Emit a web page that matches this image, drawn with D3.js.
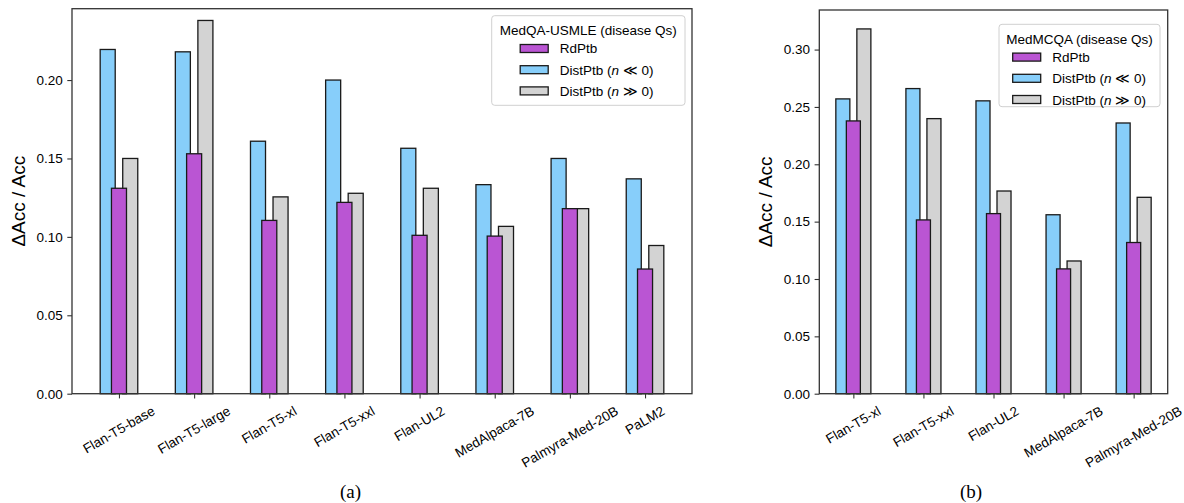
<!DOCTYPE html>
<html>
<head>
<meta charset="utf-8">
<script src="https://cdn.jsdelivr.net/npm/d3@7"></script>
<style>
  body { margin: 0; background: #fff; }
  svg { display: block; font-family: "Liberation Sans", Arial, sans-serif; }
  .tick text { font-size: 13.5px; fill: #000; }
</style>
</head>
<body>
<svg id="chart" width="1184" height="503"></svg>
<script>
// ---- data ----
const seriesNames = ["RdPtb", "DistPtb (n \u226a 0)", "DistPtb (n \u226b 0)"];
const seriesColors = ["#BA55D3", "#87CEFA", "#D3D3D3"];

const modelsA = ["Flan-T5-base", "Flan-T5-large", "Flan-T5-xl", "Flan-T5-xxl",
                 "Flan-UL2", "MedAlpaca-7B", "Palmyra-Med-20B", "PaLM2"];
const rdPtbA   = [0.131, 0.153, 0.1105, 0.122, 0.101, 0.1005, 0.118, 0.0795];
const distNegA = [0.2195, 0.218, 0.161, 0.200, 0.1565, 0.1333, 0.150, 0.137];
const distPosA = [0.150, 0.238, 0.1255, 0.1278, 0.131, 0.1067, 0.118, 0.0945];
const ticksA   = [0.00, 0.05, 0.10, 0.15, 0.20];

const modelsB = ["Flan-T5-xl", "Flan-T5-xxl", "Flan-UL2", "MedAlpaca-7B", "Palmyra-Med-20B"];
const rdPtbB   = [0.2378, 0.1515, 0.157, 0.1088, 0.1318];
const distNegB = [0.257, 0.266, 0.2553, 0.156, 0.236];
const distPosB = [0.318, 0.2398, 0.1767, 0.1157, 0.1712];
const ticksB   = [0.00, 0.05, 0.10, 0.15, 0.20, 0.25, 0.30];

const svg = d3.select("#chart");

function drawPanel(cfg) {
  const g = svg.append("g");
  const n = cfg.models.length;
  const pad = cfg.xpad;
  const x = d3.scaleLinear().domain([-pad, n - 1 + pad]).range([cfg.left, cfg.right]);
  const y = d3.scaleLinear().domain([0, cfg.ymax]).range([cfg.bottom, cfg.top]);
  const unit = x(1) - x(0);
  const bw = 0.2 * unit;

  // bars: blue, gray, then purple on top
  const layers = [
    { vals: cfg.distNeg, color: seriesColors[1], off: -0.15 },
    { vals: cfg.distPos, color: seriesColors[2], off: 0.15 },
    { vals: cfg.rd, color: seriesColors[0], off: 0 }
  ];
  layers.forEach(L => {
    g.selectAll(null).data(L.vals).enter().append("rect")
      .attr("x", (d, i) => x(i + L.off) - bw / 2)
      .attr("y", d => y(d))
      .attr("width", bw)
      .attr("height", d => y(0) - y(d))
      .attr("fill", L.color)
      .attr("stroke", "#1a1a1a")
      .attr("stroke-width", 1.3);
  });

  // frame
  g.append("rect")
    .attr("x", cfg.left).attr("y", cfg.top)
    .attr("width", cfg.right - cfg.left).attr("height", cfg.bottom - cfg.top)
    .attr("fill", "none").attr("stroke", "#333").attr("stroke-width", 1.3);

  // y axis
  const yAxis = g.append("g").attr("transform", `translate(${cfg.left},0)`)
    .call(d3.axisLeft(y).tickValues(cfg.ticks).tickFormat(d3.format(".2f"))
      .tickSize(4.7).tickPadding(4.5));
  yAxis.select(".domain").remove();
  yAxis.selectAll(".tick line").attr("stroke", "#333").attr("stroke-width", 1.1);

  // x axis
  const xAxis = g.append("g").attr("transform", `translate(0,${cfg.bottom})`)
    .call(d3.axisBottom(x).tickValues(d3.range(n)).tickFormat("").tickSize(4.7));
  xAxis.select(".domain").remove();
  xAxis.selectAll(".tick line").attr("stroke", "#333").attr("stroke-width", 1.1);

  // rotated tick labels (centered bbox, like matplotlib rotation=30)
  const th = 30 * Math.PI / 180;
  const fs = 13.5;
  cfg.models.forEach((m, i) => {
    const t = g.append("text")
      .attr("font-size", fs)
      .attr("text-anchor", "middle")
      .attr("dominant-baseline", "central")
      .text(m);
    const w = t.node().getComputedTextLength();
    const h = fs * 1.15;
    const H = w * Math.sin(th) + h * Math.cos(th);
    const cx = x(i), cy = cfg.bottom + 4.7 + 4.7 + H / 2;
    t.attr("x", cx).attr("y", cy).attr("transform", `rotate(-30,${cx},${cy})`);
  });

  // y label
  const ly = (cfg.top + cfg.bottom) / 2;
  g.append("text")
    .attr("transform", `translate(${cfg.ylabelX},${ly}) rotate(-90)`)
    .attr("text-anchor", "middle")
    .attr("dominant-baseline", "central")
    .attr("font-size", 19)
    .text("\u0394Acc / Acc");

  // legend
  const lg = g.append("g");
  lg.append("rect")
    .attr("x", cfg.leg.x).attr("y", cfg.leg.y)
    .attr("width", cfg.leg.w).attr("height", cfg.leg.h)
    .attr("rx", 3).attr("fill", "#fff").attr("fill-opacity", 0.8)
    .attr("stroke", "#d0d0d0").attr("stroke-width", 1);
  lg.append("text")
    .attr("x", cfg.leg.x + cfg.leg.w / 2).attr("y", cfg.leg.y + 19.5)
    .attr("text-anchor", "middle").attr("font-size", fs)
    .text(cfg.title);
  seriesNames.forEach((s, k) => {
    const cy = cfg.leg.y + 32.8 + k * 21.2;
    lg.append("rect")
      .attr("x", cfg.leg.x + cfg.leg.hx).attr("y", cy - 4)
      .attr("width", 28).attr("height", 8)
      .attr("fill", seriesColors[k]).attr("stroke", "#1a1a1a").attr("stroke-width", 1.3);
    const t = lg.append("text")
      .attr("x", cfg.leg.x + cfg.leg.hx + 39.5).attr("y", cy)
      .attr("dominant-baseline", "central").attr("font-size", fs);
    if (k === 0) {
      t.text(s);
    } else {
      t.append("tspan").text("DistPtb (");
      t.append("tspan").attr("font-style", "italic").text("n");
      t.append("tspan").text(k === 1 ? " \u226a 0)" : " \u226b 0)");
    }
  });

  // caption
  svg.append("text")
    .attr("x", cfg.captionX).attr("y", 498)
    .attr("text-anchor", "middle")
    .attr("font-family", "'Liberation Serif', 'Times New Roman', serif")
    .attr("font-size", 19)
    .text(cfg.caption);
}

drawPanel({
  models: modelsA, rd: rdPtbA, distNeg: distNegA, distPos: distPosA, ticks: ticksA,
  left: 72, right: 692, top: 8.7, bottom: 393.7, ymax: 0.2455, xpad: 0.625,
  ylabelX: 18.5, title: "MedQA-USMLE (disease Qs)",
  leg: { x: 491.7, y: 15.7, w: 193.3, h: 89.6, hx: 28.5 },
  caption: "(a)", captionX: 350.5
});

drawPanel({
  models: modelsB, rd: rdPtbB, distNeg: distNegB, distPos: distPosB, ticks: ticksB,
  left: 819.3, right: 1167.7, top: 10, bottom: 393.7, ymax: 0.3345, xpad: 0.486,
  ylabelX: 765, title: "MedMCQA (disease Qs)",
  leg: { x: 999, y: 24.3, w: 161, h: 82.4, hx: 13.7 },
  caption: "(b)", captionX: 971
});
</script>
</body>
</html>
